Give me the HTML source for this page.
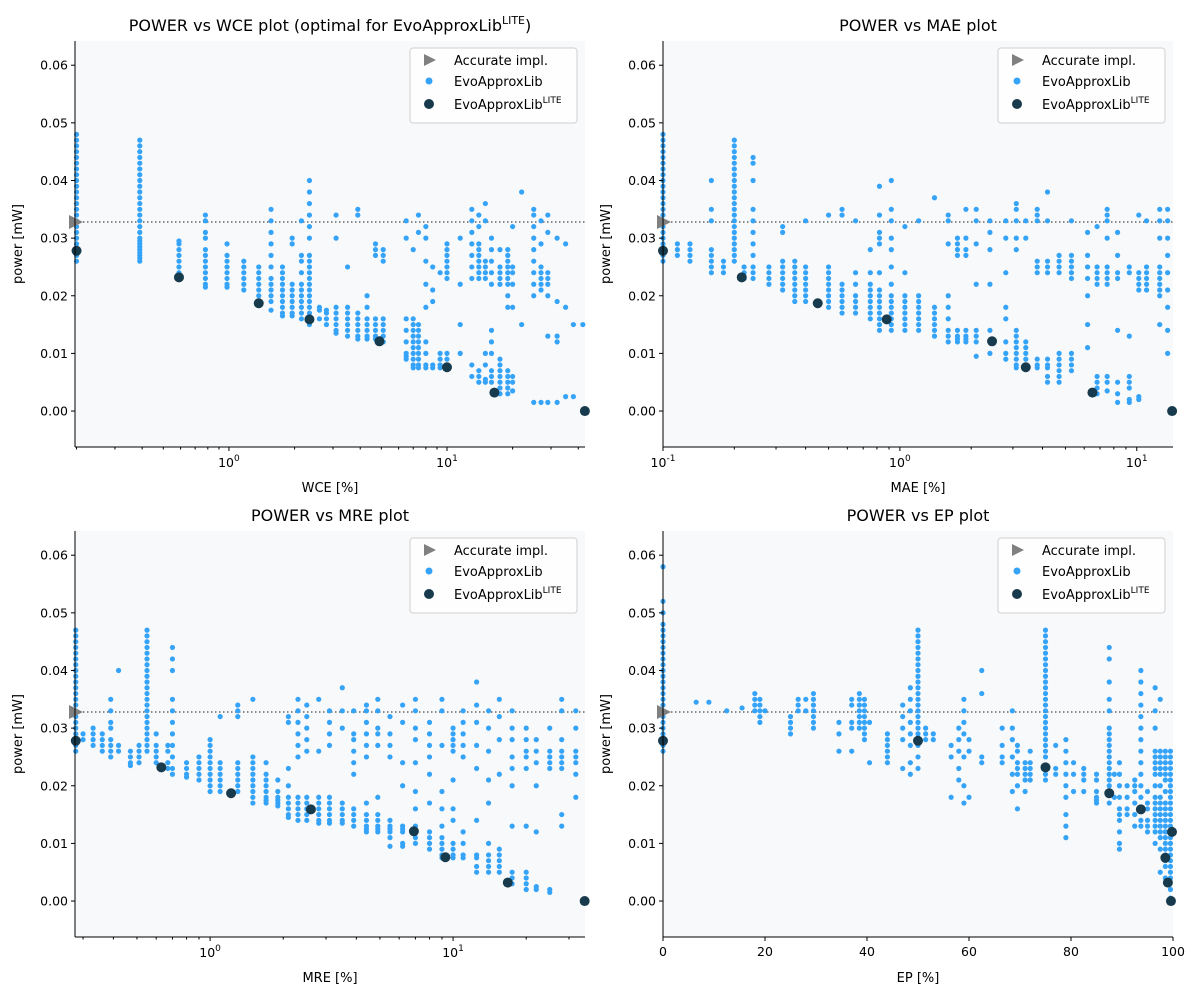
<!DOCTYPE html>
<html><head><meta charset="utf-8"><style>
body{margin:0;background:#fff;}
svg text{font-family:"DejaVu Sans","Liberation Sans",sans-serif;fill:#000;}
</style></head><body>
<svg id="chart" width="1200" height="1000" viewBox="0 0 1200 1000" xmlns="http://www.w3.org/2000/svg"></svg>
<script>
// values of power are in units of 1e-3 mW
const accuratePower = 32.8;
const yTickValues = [0,10,20,30,40,50,60];
const yTickLabels = ["0.00","0.01","0.02","0.03","0.04","0.05","0.06"];

const wceCols = [
[0.2,26,27,28,29,30,31,32,33,34,35,36,37,38,39,40,41,42,43,44,45,46,47,48],
[0.39,26,26.5,27,27.5,28,28.5,29,29.5,30,31,32,33,34,35,36,37,38,39,40,41,42,43,44,45,46,47],
[0.59,23.5,24,25,26,27,28,29,29.5],
[0.78,21.5,22,23,24,25,26,27,28,30,31,33,34],
[0.98,21.5,22,23,24,25,26,27,29],
[1.17,21,22,23,24,25,26],
[1.37,19,20,21,22,23,24,25],
[1.56,17.5,19,20,21,22,23,25,27,29,31,33,35],
[1.76,16.5,17,18,19,20,21,22,23,24,25],
[1.95,16.5,17,18,19,20,21,22,29,30],
[2.15,16,17,18,19,20,21,22,24,26,27,33],
[2.34,15,16,17,18,19,20,21,22,23,24,25,26,27,30,32,34,36,38,40],
[2.6,16,17.5,18],
[2.8,15,16,17,17.5],
[3.1,13.5,14,15,16,17,18,30,34],
[3.5,13,14,15,16,17,18,25],
[3.9,12.5,13,14,15,16,17,34,35],
[4.3,12.5,13,14,15,16,18,20],
[4.7,12.5,13,14,15,16,27,28,29],
[5.1,12,13,14,15,16,26,27,28],
[6.5,9,9.5,10,12,14,16,30,33],
[7.0,7.5,8,9,10,11,12,13,14,15,16,28],
[7.4,7.5,8,9,10,11,12,13,14,15,31,34],
[8.0,7.5,8,10,12,18,22,26,30,32],
[8.6,7.5,8,19,21,25],
[9.3,7.5,8,9,10,24],
[10,8,9,10,23,24,25,26,27,28,29],
[11.5,10,15,22,30],
[13,6,8,23,25,27,29,31,33,35],
[14,5,6,7,23,24,25,26,27,28,29,32,34],
[15,5,5.5,8,10,23,24,25,26,33,36],
[16,5,6,7,10,12,14,22,24,26,28,30],
[17.5,3,4,5,6,7,8,9,22,23,24,25,28],
[19,3,4,5,6,7,18,20,22,23,24,25,26,27,28],
[20,3.5,5,6,18,22,24,25,32],
[22,15,38],
[25,1.5,20,22,24,26,28,30,32,34,35],
[27,1.5,21,22,23,24,25,29,33],
[29,1.5,13,20,22,23,24,31,34],
[32,1.5,12,13,19,30],
[35,2.5,18,29],
[38,2.5,15],
[42,15]];
const wceLiteX = [0.2,0.59,1.37,2.34,4.9,10,16.5,42.9];
const wceLiteY = [27.8,23.2,18.7,15.9,12.1,7.6,3.2,0];

const maeCols = [
[0.1,26,27,28,29,30,31,32,33,34,35,36,37,38,39,40,41,42,43,44,45,46,47,48],
[0.115,27,28,29],[0.13,26,27,28,29],[0.16,24,25,26,27,28,33,35,40],[0.18,24,25,26],
[0.2,26,27,28,29,30,31,32,33,34,35,36,37,38,39,40,41,42,43,44,45,46,47],
[0.22,23,24,25],[0.24,23,24,25,27,29,31,33,35,40,43,44],[0.28,22,23,24,25],
[0.32,21,22,23,24,25,26,31,32],[0.36,19,20,21,22,23,24,25,26],[0.4,19,20,21,22,23,24,25,33],
[0.5,18,19,20,21,22,23,24,25,34],[0.57,17,18,19,20,21,22,34,35],[0.65,17,18,19,20,22,24,33],
[0.75,16,17,18,19,20,21,22,24,28],[0.82,14,15,16,17,18,19,20,21,24,29,30,31,34,39],
[0.92,14,15,16,17,18,19,20,22,25,28,30,33,35,40],[1.05,14,15,16,17,18,19,20,24,32],
[1.2,14,15,16,17,18,19,20,33],[1.4,13,14,15,16,17,18,37],[1.6,12,13,14,16,18,20,29,33,34],
[1.75,12,12.5,13,14,27,28,29,30],[1.9,12,12.5,13,14,27,28,30,35],[2.1,9.5,12,13,14,22,29,33,35],
[2.4,10,12,14,22,28,31,33],[2.8,9,10,12,16,18,24,30,33],
[3.1,7.5,8,9,10,11,12,13,14,28,30,33,35,36],[3.4,7.5,8,9,10,11,12,30,33],
[3.8,7.5,8,9,24,25,26,33,34,35],[4.2,5,6,7.5,8,9,24,25,26,33,38],[4.7,5,6,7,8,9,10,24,25,26,27],
[5.3,7,8,9,10,23,24,25,26,27,33],[6.2,11,15,20,23,25,27,31],[6.8,3,4,5,6,22,23,24,25,32],
[7.5,3.5,5,6,22,23,24,25,30,33,34,35],[8.3,1.5,3,5,14,23,24,27,31],[9.3,1.5,2,4,5,6,13,24,25],
[10.2,2,2.5,21,22,23,24,34],[11,21,22,23,24,25,33],[12.5,15,20,21,22,23,24,25,30,33,35],
[13.5,10,14,18,21,24,27,30,33,35]];
const maeLiteX = [0.1,0.215,0.45,0.88,2.45,3.4,6.5,14.1];
const maeLiteY = [27.8,23.2,18.7,15.9,12.1,7.6,3.2,0];

const mreCols = [
[0.28,26,27,28,29,30,31,32,33,34,35,36,37,38,39,40,41,42,43,44,45,46,47],
[0.3,28,29],[0.33,27,28,29,30],[0.36,26,27,28,29],[0.39,25,26,27,28,30,31,33,35],[0.42,26,27,40],
[0.47,23.5,24,25,26],[0.51,24,25,26,27],
[0.55,26,27,28,29,30,31,32,33,34,35,36,37,38,39,40,41,42,43,44,45,46,47],
[0.6,24,25,26,27,29],[0.67,23,24,26,27],[0.7,22,23,25,27,29,31,33,35,40,42,44],
[0.8,21.5,22,23,24],[0.9,21,22,23,24,25],[1.0,19,20,21,22,23,24,25,26,27,28],
[1.1,19,20,21,22,23,24,32],[1.3,19,20,21,22,23,24,32,33,34],[1.5,17,18,19,20,21,22,23,24,25,35],
[1.7,17,17.5,18,19,20,21,22,24],[1.9,16.5,17,17.5,18,19,21],[2.1,14.5,15,16,17,18,20,23,31,32],
[2.3,14,15,16,17,18,25,27,29,31,33,35],[2.5,14,15,16,17,18,26,28,30,32,34],
[2.8,13.5,14,15,16,17,18,26,35],[3.1,13.5,14,15,16,17,18,27,29,31,33],[3.5,13.5,14,15,16,17,30,33,37],
[3.9,13,14,15,16,22,24,26,28,29,33],[4.4,12,12.5,13,14,15,17,25,27,29,31,33,34],
[4.9,12,12.5,13,14,15,18,27,29,30,33,35],[5.5,9.5,11,12,12.5,13,14,25,27,29,32],
[6.2,9.5,10,12,12.5,13,20,24,31,34],[7,10,11,12,13,16,19,24,28,30,33,35],
[8,9,10,11,12,17,22,25,27,29,31],[9,7.5,8,9,10,11,13,16,19,27,33,35],
[10,7.5,8,9,10,14,16,21,26,27,28,29,30],[11,7.5,8,10,12,25,27,29,31,33],
[12.5,5,6,7.5,8,14,23,27,31,34,38],[14,5,6,7,8,10,17,21,26,30,33],[15.5,5,6,7,8,9,22,28,32,35],
[17.5,3,4,5,13,20,23,25,28,30,33],[20,2,3,4,5,13,23,25,26,28,30],[22,2,2.5,12,20,24,26,28],
[25,1.5,2,23,24,25,26,30],[28,13,15,23,24,25,26,28,33,35],[32,18,22,24,25,26,30,33]];
const mreLiteX = [0.28,0.63,1.22,2.6,6.9,9.3,16.8,34.8];
const mreLiteY = [27.8,23.2,18.7,15.9,12.1,7.6,3.2,0];

const epCols = [
[0,26,27,28,29,30,31,32,33,34,35,36,37,38,39,40,41,42,43,44,45,46,47,48,50,52,58],
[6.5,34.5],[9,34.5],[12.5,33],[15.5,33.5],[18,33,34,35,36],[19,31,32,33,34,35],[20,33],
[25,29,30,31,32],[26.5,33,34,35],[28,33,35],[29.5,30,31,32,33,34,35,36],
[34.5,26,29,31],[37,26,30,31,34,35],[38.5,30,31,32,33,34,35,36],[39.5,28,29,30,31,32,33,34,35],[40.5,24,31],
[44,24,25,26,27,28,29],[47,23,28,30,32,34],[48.5,22,24,27,29,31,33,35,37],
[50,23,25,27,28,29,30,31,32,33,34,35,36,37,38,39,40,41,42,43,44,45,46,47],[51.5,28,29,30],[53,28,29],
[56.5,18,25,27],[58,21,23,26,28,30],[59,17,20,25,29,31,33,35],[60,18,26,28],[62.5,24,25,36,40],
[66.5,24,25,27,30],[68.5,19,22,25,28,30,33],[69.5,16,20,22,23,24,26,27],[71,19,21,22,23,24],[72,21,22,23,24,26],
[75,21,22,23,25,26,27,28,29,30,31,32,33,34,35,36,37,38,39,40,41,42,43,44,45,46,47],
[77,22,23,27],[79,11,13,15,18,20,22,24,26,28],[80.5,19,22,24],[82.5,19,21,22,23],
[85,17,17.5,18,19,21,22],[87.5,17,19,20,21,22,23,24,25,26,27,28,29,30,33,35,38,42,44],[88.5,18,22],
[89.5,9,10,12,14,15,16,18,20,22,24],[91,15,16,18,20],[92.5,13,15,17,19,20,21],
[93.7,13,14,16,18,20,22,24,26,28,30,32,34,36,38,40],[95,12,13,14,16,17,19],
[96.5,10,12,13,14,15,16,17,18,20,22,23,24,25,26,30,33,37],
[97.5,5,9,11,12,13,14,15,16,17,18,20,22,23,24,25,26,35],
[98.5,4,6,7,8,9,10,11,12,13,14,15,16,17,19,21,22,23,24,25,26],
[99.5,0.5,2,4,5,6,7,8,9,10,11,12,13,14,15,16,17,18,19,20,21,22,23,24,25,26]];
const epLiteX = [0,50,75,87.5,93.7,99.8,98.5,99,99.6];
const epLiteY = [27.8,27.8,23.2,18.7,15.9,12,7.5,3.2,0];

const NS = "http://www.w3.org/2000/svg";
const svg = document.getElementById("chart");
function mk(tag, attrs, parent){ const e=document.createElementNS(NS,tag); for(const k in attrs) e.setAttribute(k,attrs[k]); (parent||svg).appendChild(e); return e; }

const W=510, H=406, YMIN=-6.24, YMAX=64.2;
const panels = [
 {id:"wce", L:75, T:41, log:true, lmin:-0.706, lmax:1.633, cols:wceCols, lx:wceLiteX, ly:wceLiteY, xlabel:"WCE [%]", majors:[0,1], title:"POWER vs WCE plot (optimal for EvoApproxLib", sup:true},
 {id:"mae", L:663, T:41, log:true, lmin:-1, lmax:1.153, cols:maeCols, lx:maeLiteX, ly:maeLiteY, xlabel:"MAE [%]", majors:[-1,0,1], title:"POWER vs MAE plot"},
 {id:"mre", L:75, T:531, log:true, lmin:-0.556, lmax:1.543, cols:mreCols, lx:mreLiteX, ly:mreLiteY, xlabel:"MRE [%]", majors:[0,1], title:"POWER vs MRE plot"},
 {id:"ep", L:663, T:531, log:false, lmin:0, lmax:100, cols:epCols, lx:epLiteX, ly:epLiteY, xlabel:"EP [%]", linTicks:[0,20,40,60,80,100], title:"POWER vs EP plot"}
];

panels.forEach(p=>{
  const g = mk("g",{});
  
  
  const xs = v => p.L + ((p.log?Math.log10(v):v) - p.lmin)/(p.lmax-p.lmin)*W;
  const ys = v => p.T + (YMAX - v)/(YMAX-YMIN)*H;
  const bg = mk("rect",{x:p.L,y:p.T,width:W,height:H,fill:"#f8f9fa"},g);
  
  
  // dotted accurate line
  const al = mk("line",{x1:p.L,x2:p.L+W,y1:ys(accuratePower),y2:ys(accuratePower),stroke:"#666","stroke-width":1.5,"stroke-dasharray":"1.5,2.5"},g);
  
  
  // points
  p.cols.forEach(c=>{
    for(let i=1;i<c.length;i++){
      const pt = mk("circle",{cx:xs(c[0]),cy:ys(c[i]),r:2.6,fill:"#35a3f7"},g);
      
      
    }
  });
  p.lx.forEach((x,i)=>{
    const pt = mk("circle",{cx:xs(x),cy:ys(p.ly[i]),r:5,fill:"#173a4c"},g);
    
    
  });
  const ty = ys(accuratePower);
  const tri = mk("polygon",{points:`${p.L-6},${ty-7} ${p.L+8},${ty} ${p.L-6},${ty+7}`,fill:"#808080"},g);
  
  
  // spines
  mk("line",{x1:p.L,x2:p.L,y1:p.T,y2:p.T+H,stroke:"#000","stroke-width":1},g);
  mk("line",{x1:p.L,x2:p.L+W,y1:p.T+H,y2:p.T+H,stroke:"#000","stroke-width":1},g);
  // y ticks
  yTickValues.forEach((v,i)=>{
    const y=ys(v);
    mk("line",{x1:p.L-4,x2:p.L,y1:y,y2:y,stroke:"#000"},g);
    const t=mk("text",{x:p.L-7,y:y+4.5,"text-anchor":"end","font-size":12.5},g);
    t.textContent=yTickLabels[i];
    
    
  });
  // x ticks
  const B=p.T+H;
  if(p.log){
    for(let d=Math.floor(p.lmin); d<=Math.ceil(p.lmax); d++){
      for(let m=1;m<10;m++){
        const lv=d+Math.log10(m);
        if(lv<p.lmin-1e-9||lv>p.lmax+1e-9) continue;
        const x=p.L+(lv-p.lmin)/(p.lmax-p.lmin)*W;
        mk("line",{x1:x,x2:x,y1:B,y2:B+(m===1?4:2.5),stroke:"#000"},g);
      }
    }
    p.majors.forEach(d=>{
      const x=p.L+(d-p.lmin)/(p.lmax-p.lmin)*W;
      const t=mk("text",{x:x,y:B+20,"text-anchor":"middle","font-size":12.5},g);
      
      
      t.textContent="10";
      const s=mk("tspan",{"font-size":9,dy:-6},t); s.textContent=String(d);
    });
  } else {
    p.linTicks.forEach(v=>{
      const x=xs(v);
      mk("line",{x1:x,x2:x,y1:B,y2:B+4,stroke:"#000"},g);
      const t=mk("text",{x:x,y:B+19,"text-anchor":"middle","font-size":12.5},g);
      t.textContent=String(v);
      
      
    });
  }
  const xl=mk("text",{x:p.L+W/2,y:B+45,"text-anchor":"middle","font-size":13},g);
  xl.textContent=p.xlabel;
  
  
  const yl=mk("text",{x:0,y:0,"text-anchor":"middle","font-size":13,transform:`translate(${p.L-53},${p.T+H/2}) rotate(-90)`},g);
  yl.textContent="power [mW]";
  
  
  const tt=mk("text",{x:p.L+W/2,y:p.T-10,"text-anchor":"middle","font-size":16},g);
  
  
  tt.textContent=p.title;
  if(p.sup){ const s=mk("tspan",{"font-size":11,dy:-7},tt); s.textContent="LITE"; const e=mk("tspan",{dy:7},tt); e.textContent=")"; }
  // legend
  const lg=mk("g",{},g);
  
  
  const lx=p.L+335, ly=p.T+7;
  mk("rect",{x:lx,y:ly,width:167,height:75,rx:3,fill:"#fff","fill-opacity":0.85,stroke:"#d0d0d0"},lg);
  mk("polygon",{points:`${lx+14},${ly+6} ${lx+26},${ly+12} ${lx+14},${ly+18}`,fill:"#808080"},lg);
  mk("circle",{cx:lx+19,cy:ly+33,r:3.5,fill:"#35a3f7"},lg);
  mk("circle",{cx:lx+19,cy:ly+56,r:5,fill:"#173a4c"},lg);
  const t1=mk("text",{x:lx+44,y:ly+17,"font-size":13},lg); t1.textContent="Accurate impl.";
   
  const t2=mk("text",{x:lx+44,y:ly+38,"font-size":13},lg); t2.textContent="EvoApproxLib";
   
  const t3=mk("text",{x:lx+44,y:ly+61,"font-size":13},lg); t3.textContent="EvoApproxLib";
   
  const s3=mk("tspan",{"font-size":9,dy:-6},t3); s3.textContent="LITE";
});
</script>
</body></html>
